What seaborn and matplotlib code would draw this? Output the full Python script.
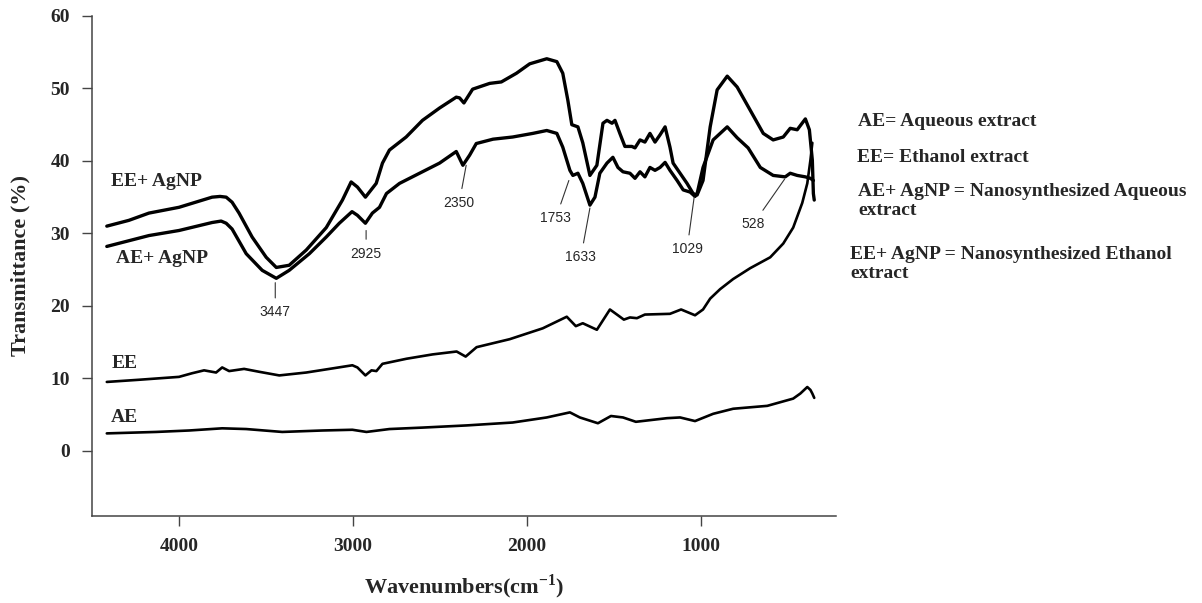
import matplotlib
matplotlib.use('Agg')
import matplotlib.pyplot as plt
import seaborn as sns

# FTIR spectra (wavenumber cm-1, transmittance %)
ee_ag_wn = [4415, 4288, 4173, 4000, 3810, 3764, 3729, 3695, 3655, 3580, 3499, 3441, 3367, 3269, 3154,
            3061, 3011, 2975, 2929, 2867, 2831, 2791, 2695, 2601, 2503, 2407, 2388, 2363, 2313, 2215,
            2148, 2061, 1985, 1887, 1829, 1795, 1766, 1743, 1708, 1680, 1639, 1599, 1564, 1541, 1512,
            1495, 1467, 1438, 1398, 1380, 1351, 1323, 1294, 1265, 1236, 1207, 1179, 1161, 1121, 1081,
            1046, 1023, 989, 948, 908, 850, 793, 718, 643, 586, 528, 488, 448, 401, 378, 361, 355, 350]
ee_ag_t = [31.0, 31.8, 32.8, 33.6, 35.0, 35.1, 35.0, 34.3, 32.8, 29.5, 26.7, 25.3, 25.6, 27.7, 30.8,
           34.6, 37.1, 36.4, 35.0, 36.9, 39.7, 41.5, 43.3, 45.6, 47.3, 48.8, 48.7, 48.0, 49.9, 50.7,
           50.9, 52.1, 53.4, 54.1, 53.7, 52.1, 48.4, 45.0, 44.7, 42.5, 38.0, 39.4, 45.2, 45.6, 45.2,
           45.6, 43.8, 42.0, 42.0, 41.8, 42.9, 42.6, 43.8, 42.6, 43.6, 44.7, 41.9, 39.7, 38.3, 36.9,
           35.5, 35.3, 37.3, 44.7, 49.8, 51.7, 50.2, 47.0, 43.8, 42.9, 43.3, 44.5, 44.3, 45.8, 44.3,
           40.1, 35.5, 34.6]

ae_ag_wn = [4415, 4173, 4000, 3810, 3758, 3729, 3695, 3614, 3522, 3441, 3367, 3251, 3154, 3079, 3006,
            2975, 2929, 2889, 2848, 2808, 2733, 2618, 2503, 2407, 2369, 2330, 2292, 2196, 2083, 1967,
            1887, 1829, 1795, 1754, 1737, 1708, 1680, 1639, 1610, 1582, 1541, 1507, 1478, 1449, 1409,
            1380, 1351, 1323, 1294, 1265, 1236, 1207, 1179, 1138, 1103, 1063, 1035, 1023, 989, 931,
            850, 793, 730, 660, 586, 517, 488, 448, 401, 372, 355]
ae_ag_t = [28.2, 29.7, 30.4, 31.5, 31.7, 31.4, 30.6, 27.2, 24.9, 23.8, 24.9, 27.2, 29.5, 31.4, 33.0,
           32.5, 31.4, 32.8, 33.6, 35.5, 36.9, 38.3, 39.7, 41.3, 39.4, 40.8, 42.4, 43.0, 43.3, 43.8,
           44.2, 43.8, 41.9, 38.7, 38.0, 38.3, 36.9, 33.9, 35.0, 38.3, 39.7, 40.5, 39.1, 38.5, 38.3,
           37.6, 38.5, 37.8, 39.1, 38.7, 39.1, 39.8, 38.7, 37.3, 36.0, 35.7, 35.1, 35.5, 39.1, 42.9,
           44.7, 43.2, 41.8, 39.1, 38.0, 37.8, 38.3, 38.0, 37.8, 37.6, 37.3]

ee_wn = [4415, 4230, 4000, 3925, 3856, 3787, 3752, 3712, 3626, 3539, 3424, 3269, 3136, 3004, 2975,
         2929, 2894, 2866, 2831, 2693, 2543, 2405, 2353, 2290, 2100, 1910, 1772, 1720, 1680, 1599,
         1524, 1478, 1444, 1409, 1369, 1323, 1179, 1115, 1035, 989, 948, 891, 816, 718, 603,
         528, 471, 419, 390, 372, 361]
ee_t = [9.5, 9.8, 10.2, 10.7, 11.1, 10.8, 11.5, 11.0, 11.3, 10.9, 10.4, 10.8, 11.3, 11.8, 11.5,
        10.4, 11.1, 11.0, 12.0, 12.7, 13.3, 13.7, 13.0, 14.3, 15.4, 16.9, 18.5, 17.2, 17.6, 16.7,
        19.5, 18.7, 18.1, 18.4, 18.3, 18.8, 18.9, 19.5, 18.7, 19.5, 21.0, 22.3, 23.7, 25.2, 26.7,
        28.6, 30.8, 34.2, 36.9, 40.1, 42.5]

ae_wn = [4415, 4132, 3942, 3752, 3614, 3407, 3177, 3004, 2923, 2791, 2601, 2347, 2083, 1887, 1754,
         1697, 1593, 1518, 1449, 1375, 1196, 1121, 1035, 931, 816, 620, 471, 430, 390, 372, 361, 350]
ae_t = [2.4, 2.6, 2.8, 3.1, 3.0, 2.6, 2.8, 2.9, 2.6, 3.0, 3.2, 3.5, 3.9, 4.6, 5.3,
        4.6, 3.8, 4.8, 4.6, 4.0, 4.5, 4.6, 4.1, 5.1, 5.8, 6.2, 7.2, 7.9, 8.8, 8.4, 7.9, 7.3]

# peak annotations: label, point on curve, text position
peak_labels = ['3447', '2925', '2350', '1753', '1633', '1029', '528']
peak_wn = [3447, 2925, 2350, 1760, 1639, 1040, 520]
peak_t = [23.2, 30.4, 39.4, 37.3, 33.5, 35.0, 37.5]
text_wn = [3447, 2925, 2390, 1835, 1691, 1081, 700]
text_t = [19.1, 27.2, 34.2, 32.1, 26.7, 27.8, 31.3]

sns.set_theme(style='ticks')
plt.rcParams['font.family'] = ['Liberation Serif', 'DejaVu Serif']
plt.rcParams['mathtext.fontset'] = 'custom'
plt.rcParams['mathtext.rm'] = 'Liberation Serif:bold'
plt.rcParams['mathtext.bf'] = 'Liberation Serif:bold'

fig = plt.figure(figsize=(12.02, 6.03), dpi=100)
ax = fig.add_axes([92 / 1202, 87 / 603, 744 / 1202, 500 / 603])

sns.lineplot(x=ee_ag_wn, y=ee_ag_t, sort=False, estimator=None, color='black', lw=2.4, ax=ax)
sns.lineplot(x=ae_ag_wn, y=ae_ag_t, sort=False, estimator=None, color='black', lw=2.4, ax=ax)
sns.lineplot(x=ee_wn, y=ee_t, sort=False, estimator=None, color='black', lw=1.9, ax=ax)
sns.lineplot(x=ae_wn, y=ae_t, sort=False, estimator=None, color='black', lw=1.9, ax=ax)

ax.set_xlim(4500, 225)
ax.set_ylim(-9, 60)
ax.set_xticks([4000, 3000, 2000, 1000])
ax.set_yticks([0, 10, 20, 30, 40, 50, 60])
sns.despine(ax=ax)
for s in ['left', 'bottom']:
    ax.spines[s].set_color('#444444')
    ax.spines[s].set_linewidth(1.1)
ax.tick_params(direction='out', length=7, width=1.0, color='#444444', pad=9,
               labelsize=14)
for lab in ax.get_xticklabels() + ax.get_yticklabels():
    lab.set_fontweight('bold')

ax.set_xlabel(r'Wavenumbers(cm$^{\mathrm{-1}}$)', fontsize=16, fontweight='bold', labelpad=12)
ax.set_ylabel('Transmittance (%)', fontsize=16, fontweight='bold', labelpad=14)

# curve names
curve_names = ['EE+ AgNP', 'AE+ AgNP', 'EE', 'AE']
name_wn = [4392, 4363, 4386, 4392]
name_t = [37.1, 26.6, 12.0, 4.6]
for txt, x, y in zip(curve_names, name_wn, name_t):
    ax.text(x, y, txt, ha='left', va='center', fontsize=14, fontweight='bold')

for txt, x0, y0, x1, y1 in zip(peak_labels, peak_wn, peak_t, text_wn, text_t):
    ax.annotate(txt, xy=(x0, y0), xytext=(x1, y1), ha='center', va='center',
                fontsize=10, family='Liberation Sans',
                arrowprops=dict(arrowstyle='-', lw=0.8, color='#333333', shrinkA=3, shrinkB=0))

# key on the right
key_text = ['AE= Aqueous extract', 'EE= Ethanol extract',
            'AE+ AgNP = Nanosynthesized Aqueous\nextract',
            'EE+ AgNP = Nanosynthesized Ethanol\nextract']
key_x = [858, 857, 858, 850]
key_y = [122, 158, 201, 264]
for txt, x, y in zip(key_text, key_x, key_y):
    fig.text(x / 1202, 1 - y / 603, txt, ha='left', va='center', fontsize=14,
             fontweight='bold', linespacing=1.15)

fig.savefig('out.png', dpi=100)
